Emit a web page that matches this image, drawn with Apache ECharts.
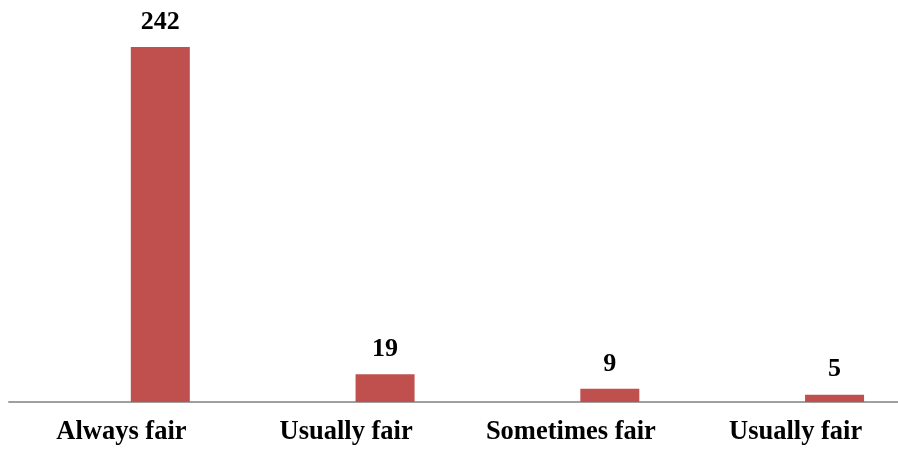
<!DOCTYPE html>
<html><head><meta charset="utf-8">
<script src="https://cdn.jsdelivr.net/npm/echarts@6/dist/echarts.min.js"></script>
<style>html,body{margin:0;padding:0;background:#fff}#c{width:898px;height:450px}</style>
</head><body><div id="c"></div>
<script>
const categories = ["Always fair", "Usually fair", "Sometimes fair", "Usually fair"];
const values = [242, 19, 9, 5];
const emptySeries = [null, null, null, null];

const chart = echarts.init(document.getElementById('c'));
const font = "'Liberation Serif', 'Times New Roman', serif";
chart.setOption({
  animation: false,
  grid: { left: 9, width: 899, top: 35.3, bottom: 48, containLabel: false, outerBoundsMode: 'none' },
  xAxis: {
    type: 'category', data: categories,
    axisLine: { lineStyle: { color: '#a0a0a0', width: 2 } },
    axisTick: { show: false },
    axisLabel: { color: '#000', fontFamily: font, fontWeight: 'bold', fontSize: 26.5, margin: 17, interval: 0 }
  },
  yAxis: { type: 'value', min: 0, max: 250, show: false, splitLine: { show: false } },
  series: [
    { type: 'bar', data: emptySeries, barWidth: 59, barGap: '32%' },
    { type: 'bar', data: values, barWidth: 59, barGap: '32%',
      itemStyle: { color: '#c0504d' },
      label: { show: true, position: 'top', distance: 12, color: '#000', fontFamily: font, fontWeight: 'bold', fontSize: 26 } }
  ]
});
</script></body></html>
